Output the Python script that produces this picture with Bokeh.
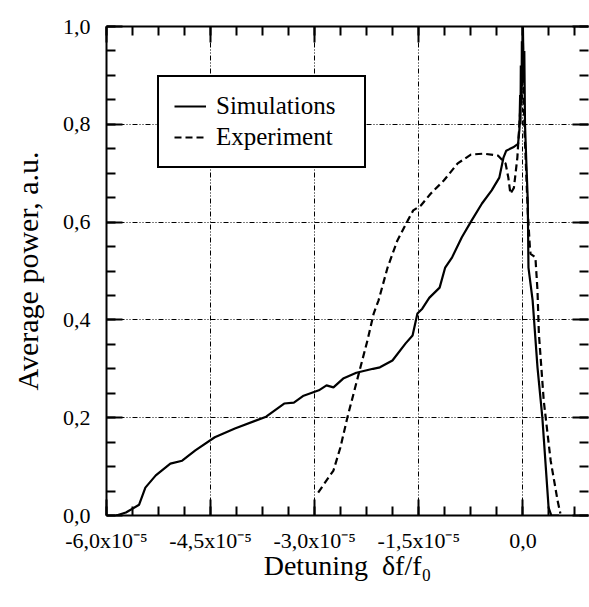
from bokeh.plotting import figure
from bokeh.models import (Range1d, FixedTicker, LinearAxis, CustomJSTickFormatter,
                          Legend, LegendItem)
from bokeh.embed import file_html
from bokeh.resources import INLINE
import numpy as np

# Detuning in units of 1e-5
sim_x = [-5.86, -5.72, -5.53, -5.44, -5.29, -5.08, -4.91, -4.72, -4.44, -4.15,
         -3.70, -3.44, -3.30, -3.16, -2.94, -2.83, -2.73, -2.59, -2.40, -2.16,
         -2.06, -1.88, -1.69, -1.59, -1.52, -1.45, -1.35, -1.20, -1.12, -1.02,
         -0.88, -0.74, -0.59, -0.45, -0.34, -0.28, -0.24, -0.14, -0.07, -0.05,
         -0.04, -0.035, -0.03, -0.02, -0.015, -0.01, 0.0, 0.01, 0.02, 0.03,
         0.05, 0.07, 0.08, 0.14, 0.21, 0.28, 0.33, 0.37, 0.41, 0.52]
sim_y = [0.0, 0.006, 0.022, 0.057, 0.082, 0.106, 0.112, 0.133, 0.160, 0.178,
         0.202, 0.229, 0.231, 0.245, 0.256, 0.266, 0.262, 0.280, 0.292, 0.300,
         0.303, 0.317, 0.352, 0.368, 0.413, 0.423, 0.445, 0.466, 0.507, 0.528,
         0.569, 0.603, 0.638, 0.665, 0.691, 0.732, 0.746, 0.753, 0.760, 0.790,
         0.860, 0.800, 0.920, 0.840, 0.970, 0.880, 1.000, 0.900, 0.950, 0.800,
         0.720, 0.644, 0.507, 0.440, 0.303, 0.200, 0.098, 0.016, 0.0, 0.0]

exp_x = [-2.95, -2.73, -2.63, -2.53, -2.38, -2.24, -2.15, -2.08, -1.95, -1.81,
         -1.66, -1.58, -1.47, -1.33, -1.14, -0.94, -0.75, -0.57, -0.36, -0.25,
         -0.21, -0.18, -0.13, -0.08, -0.03, 0.0, 0.02, 0.07, 0.10, 0.11,
         0.18, 0.21, 0.23, 0.30, 0.40, 0.50, 0.54]
exp_y = [0.047, 0.092, 0.139, 0.200, 0.282, 0.358, 0.413, 0.440, 0.507, 0.562,
         0.603, 0.624, 0.634, 0.658, 0.685, 0.720, 0.738, 0.740, 0.736, 0.720,
         0.691, 0.658, 0.670, 0.732, 0.850, 0.970, 0.800, 0.620, 0.550, 0.535,
         0.528, 0.460, 0.372, 0.235, 0.112, 0.030, 0.004]

x_tick_values = [-6.0, -4.5, -3.0, -1.5, 0.0]
x_tick_labels = ["-6,0x10\u207b\u2075", "-4,5x10\u207b\u2075", "-3,0x10\u207b\u2075",
                 "-1,5x10\u207b\u2075", "0,0"]
y_tick_values = [0.0, 0.2, 0.4, 0.6, 0.8, 1.0]
y_tick_labels = ["0,0", "0,2", "0,4", "0,6", "0,8", "1,0"]

series_names = ["Simulations", "Experiment"]
x_label = "Detuning\u00a0\u00a0\u03b4f/f\u2080"
y_label = "Average power, a.u."

FONT = "Liberation Serif"

x_minor = list(np.arange(-6.0, 1.0, 0.375))
y_minor = list(np.arange(0.0, 1.0001, 0.05))
xticker = FixedTicker(ticks=x_tick_values, minor_ticks=x_minor)
yticker = FixedTicker(ticks=y_tick_values, minor_ticks=y_minor)

p = figure(frame_width=482, frame_height=489,
           x_range=Range1d(-6.0, 0.945), y_range=Range1d(0.0, 1.0),
           output_backend="svg", toolbar_location=None,
           x_axis_location=None, y_axis_location=None,
           min_border_left=106, min_border_top=26, min_border_bottom=92,
           min_border_right=1)
p.outline_line_color = None
p.background_fill_color = "white"
p.border_fill_color = "white"

fmt_js = """
const i = vals.findIndex(v => Math.abs(v - tick) < 1e-9);
return i >= 0 ? labs[i] : "";
"""
xfmt = CustomJSTickFormatter(args=dict(vals=x_tick_values, labs=x_tick_labels), code=fmt_js)
yfmt = CustomJSTickFormatter(args=dict(vals=y_tick_values, labs=y_tick_labels), code=fmt_js)
blank_fmt = CustomJSTickFormatter(code="return '';")


def style(ax, labels=True):
    ax.axis_line_width = 2
    ax.axis_line_color = "black"
    ax.major_tick_in = 16
    ax.major_tick_out = 0
    ax.minor_tick_in = 9
    ax.minor_tick_out = 0
    ax.major_tick_line_width = 2
    ax.minor_tick_line_width = 2
    ax.major_tick_line_color = "black"
    ax.minor_tick_line_color = "black"
    if labels:
        ax.major_label_text_font = FONT
        ax.major_label_text_font_size = "22px"
        ax.major_label_text_color = "black"
        ax.axis_label_text_font = FONT
        ax.axis_label_text_font_style = "normal"
        ax.axis_label_text_color = "black"
    else:
        ax.major_label_text_font_size = "1px"
        ax.major_label_standoff = 0


bottom = LinearAxis(ticker=xticker, formatter=xfmt, axis_label=x_label)
style(bottom)
bottom.major_label_standoff = 12
bottom.axis_label_text_font_size = "28px"
bottom.axis_label_standoff = -6
p.add_layout(bottom, "below")

left = LinearAxis(ticker=yticker, formatter=yfmt, axis_label=y_label)
style(left)
left.major_label_standoff = 16
left.axis_label_text_font_size = "30px"
left.axis_label_standoff = 16
p.add_layout(left, "left")

top = LinearAxis(ticker=xticker, formatter=blank_fmt)
style(top, labels=False)
p.add_layout(top, "above")

right = LinearAxis(ticker=yticker, formatter=blank_fmt)
style(right, labels=False)
right.axis_line_color = None
p.add_layout(right, "right")

p.xgrid.ticker = xticker
p.ygrid.ticker = yticker
for g in (p.xgrid, p.ygrid):
    g.grid_line_color = "black"
    g.grid_line_width = 1
    g.grid_line_dash = "5 2 1 2 1 2"
    g.grid_line_alpha = 1.0

r_sim = p.line(sim_x, sim_y, line_color="black", line_width=2.2)
r_exp = p.line(exp_x, exp_y, line_color="black", line_width=2.2, line_dash="7 4")

legend = Legend(items=[LegendItem(label=series_names[0], renderers=[r_sim]),
                       LegendItem(label=series_names[1], renderers=[r_exp])],
                location=(51, 347))
legend.label_text_font = FONT
legend.label_text_font_size = "25px"
legend.label_text_color = "black"
legend.label_height = 28
legend.glyph_height = 28
legend.glyph_width = 32
legend.label_standoff = 10
legend.label_width = 133
legend.spacing = 3
legend.padding = 15
legend.margin = 0
legend.border_line_color = "black"
legend.border_line_width = 2
legend.border_line_alpha = 1.0
legend.background_fill_color = "white"
legend.background_fill_alpha = 1.0
p.add_layout(legend, "center")

open("out.html", "w").write(file_html(p, INLINE))
